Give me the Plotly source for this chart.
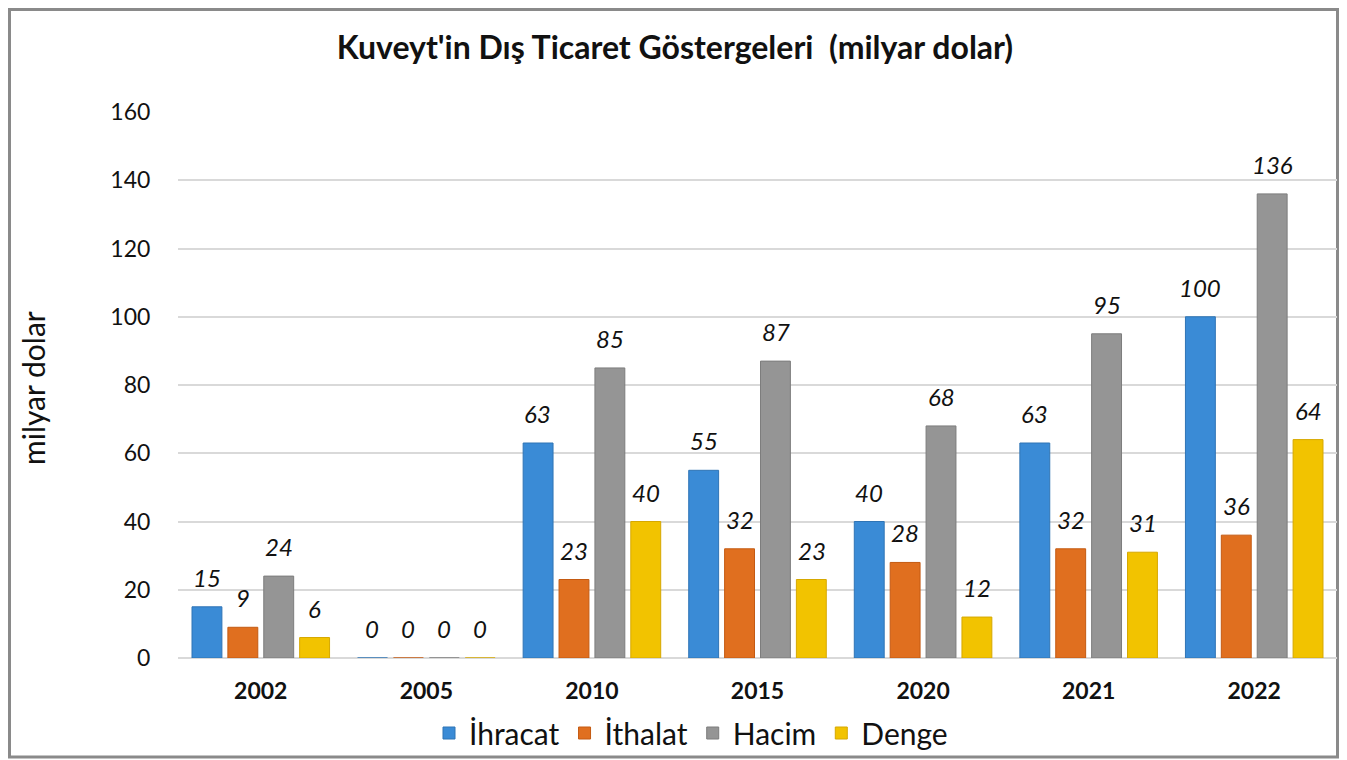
import plotly.graph_objects as go

years = ["2002", "2005", "2010", "2015", "2020", "2021", "2022"]
ihracat = [15, 0, 63, 55, 40, 63, 100]
ithalat = [9, 0, 23, 32, 28, 32, 36]
hacim = [24, 0, 85, 87, 68, 95, 136]
denge = [6, 0, 40, 23, 12, 31, 64]

series = [
    ("İhracat", ihracat, "#3a8bd6", "#2f74b5"),
    ("İthalat", ithalat, "#e06f1f", "#c45a12"),
    ("Hacim", hacim, "#959595", "#7d7d7d"),
    ("Denge", denge, "#f2c300", "#d6a800"),
]
offsets = [-54, -18, 18, 54]
FONT = "Lato"

# page body has an 8px margin: figure coordinates are page coordinates minus OFF
OFF = 8
W, H = 1347 - 2 * OFF, 760 - OFF
L, R, T, B = 178 - OFF, 2, 112 - OFF, H - (658 - OFF)
PW, PH = W - L - R, H - T - B


def px(xp):  # page x -> paper x
    return (xp - OFF - L) / PW


def py(yp):  # page y -> paper y
    return (PH - (yp - OFF - T)) / PH


fig = go.Figure()
annotations = []
for (name, vals, col, edge), off in zip(series, offsets):
    fig.add_trace(go.Bar(
        x=years, y=vals, name=name,
        marker=dict(color=col, line=dict(color=edge, width=1)),
    ))
    for i, v in enumerate(vals):
        annotations.append(dict(
            x=i, y=v, xref="x", yref="y", text=f"<i>{v}</i>",
            showarrow=False, xshift=off, yshift=13, yanchor="bottom",
            font=dict(family=FONT, size=24, color="#111111"),
        ))

annotations.append(dict(
    x=px(33), y=py(388), xref="paper", yref="paper", text="milyar dolar",
    textangle=-90, showarrow=False, xanchor="center", yanchor="middle",
    font=dict(family=FONT, size=30, color="#111111"),
))

fig.update_layout(
    width=W, height=H,
    margin=dict(l=L, r=R, t=T, b=B, autoexpand=False),
    paper_bgcolor="white", plot_bgcolor="white",
    barmode="group", bargap=0.133, bargroupgap=0.167,
    title=dict(text="<b>Kuveyt'in Dış Ticaret Göstergeleri  (milyar dolar)</b>",
               x=(675 - OFF) / W, xanchor="center", y=1 - (48 - OFF) / H, yanchor="middle",
               font=dict(family=FONT, size=32, color="#111111")),
    font=dict(family=FONT, color="#111111"),
    legend=dict(orientation="h", x=px(691), xanchor="center",
                y=py(733), yanchor="middle", bgcolor="rgba(0,0,0,0)",
                font=dict(family=FONT, size=30), traceorder="normal"),
    annotations=annotations,
    shapes=[dict(type="rect", xref="paper", yref="paper",
                 x0=px(OFF + 1.5), x1=px(OFF + W - 1.5),
                 y0=py(757), y1=py(OFF + 1.5),
                 line=dict(color="#8a8a8a", width=3), layer="below")],
)
fig.update_yaxes(range=[0, 160], dtick=20, showgrid=True, gridcolor="#d9d9d9",
                 gridwidth=1.5, zeroline=True, zerolinecolor="#d9d9d9", zerolinewidth=1.5,
                 ticks="outside", ticklen=22, tickcolor="rgba(0,0,0,0)", automargin=False,
                 tickfont=dict(family=FONT, size=23, color="#111111"), showline=False)
fig.update_xaxes(showgrid=False, showline=False, ticks="outside", ticklen=12,
                 tickcolor="rgba(0,0,0,0)", type="category", range=[-0.5, 6.5],
                 domain=[0, 1], automargin=False,
                 tickfont=dict(family=FONT, size=23, color="#111111", weight="bold"))

fig.write_html("out.html")
